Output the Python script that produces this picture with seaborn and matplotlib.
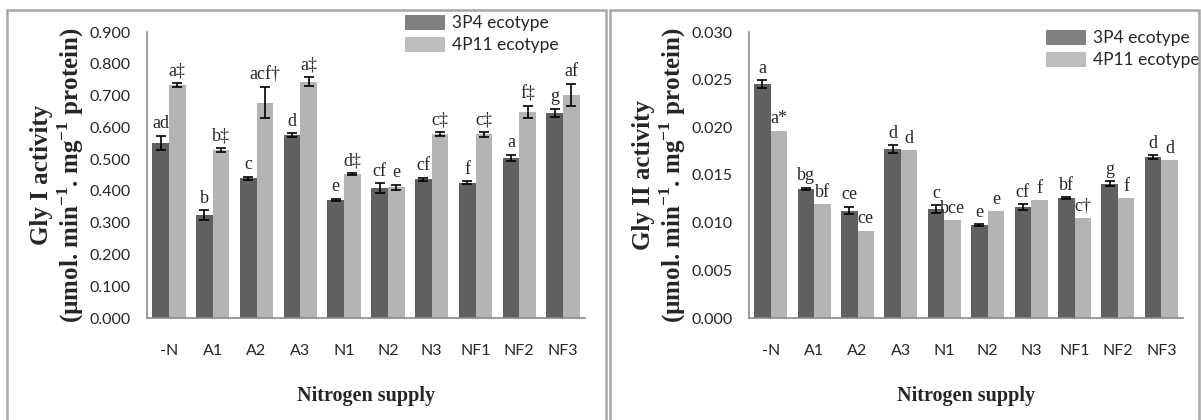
import numpy as np
import pandas as pd
import matplotlib
matplotlib.use("Agg")
import matplotlib.pyplot as plt
import seaborn as sns
from matplotlib.patches import Patch, Rectangle

# ---------------- data ----------------
categories = ["-N", "A1", "A2", "A3", "N1", "N2", "N3", "NF1", "NF2", "NF3"]
series_names = ["3P4 ecotype", "4P11 ecotype"]

gly1_3p4 = [0.552, 0.324, 0.440, 0.575, 0.371, 0.408, 0.436, 0.426, 0.504, 0.646]
gly1_4p11 = [0.733, 0.528, 0.678, 0.744, 0.452, 0.411, 0.579, 0.578, 0.649, 0.702]
gly1_err_3p4 = [0.022, 0.015, 0.005, 0.006, 0.004, 0.016, 0.005, 0.005, 0.010, 0.012]
gly1_err_4p11 = [0.007, 0.007, 0.048, 0.015, 0.003, 0.009, 0.005, 0.007, 0.019, 0.035]
gly1_lab_3p4 = ["ad", "b", "c", "d", "e", "cf", "cf", "f", "a", "g"]
gly1_lab_4p11 = ["a‡", "b‡", "acf†", "a‡", "d‡", "e", "c‡", "c‡", "f‡", "af"]

gly2_3p4 = [0.02455, 0.01357, 0.01126, 0.01773, 0.01143, 0.00972, 0.01161, 0.01255, 0.01409, 0.01685]
gly2_4p11 = [0.01965, 0.01193, 0.00913, 0.01762, 0.01024, 0.01119, 0.01238, 0.01052, 0.01255, 0.01657]
gly2_err_3p4 = [0.0004, 0.0001, 0.0004, 0.0004, 0.0004, 0.0001, 0.0003, 0.0001, 0.00025, 0.0002]
gly2_err_4p11 = [0, 0, 0, 0, 0, 0, 0, 0, 0, 0]
gly2_lab_3p4 = ["a", "bg", "ce", "d", "c", "e", "cf", "bf", "g", "d"]
gly2_lab_4p11 = ["a*", "bf", "ce", "d", "bce", "e", "f", "c†", "f", "d"]

gly1_ticks = [0.0, 0.1, 0.2, 0.3, 0.4, 0.5, 0.6, 0.7, 0.8, 0.9]
gly2_ticks = [0.0, 0.005, 0.010, 0.015, 0.020, 0.025, 0.030]

x_label = "Nitrogen supply"
y1_label = "Gly I activity\n(µmol. min$^{\\mathbf{-1}}$. mg$^{\\mathbf{-1}}$ protein)"
y2_label = "Gly II activity\n(µmol. min$^{\\mathbf{-1}}$. mg$^{\\mathbf{-1}}$ protein)"

# ---------------- style ----------------
sns.set_style("white")
plt.rcParams["font.family"] = ["Lato", "DejaVu Sans"]
plt.rcParams["mathtext.fontset"] = "custom"
plt.rcParams["mathtext.rm"] = "Liberation Serif"
plt.rcParams["mathtext.bf"] = "Liberation Serif:bold"

BAR_COLORS = ["#606060", "#b4b4b4"]
LEG_COLORS = ["#808080", "#bebebe"]
SPINE = "#8a8a8a"
FRAME = "#a6a6a6"

W, H = 1201, 420
fig = plt.figure(figsize=(W / 100, H / 100), dpi=100)

# panel frames
for (x0, x1) in [(7, 606), (610, 1199)]:
    fig.patches.append(Rectangle((x0 / W, -0.02), (x1 - x0) / W, (H - 10) / H + 0.02,
                                 transform=fig.transFigure, fill=False,
                                 edgecolor=FRAME, linewidth=1.8))


def panel(rect, v3, v4, e3, e4, l3, l4, ticks, ylab, leg_anchor):
    ax = fig.add_axes(rect)
    df = pd.DataFrame({
        "cat": categories * 2,
        "val": list(v3) + list(v4),
        "eco": [series_names[0]] * len(categories) + [series_names[1]] * len(categories),
    })
    sns.barplot(data=df, x="cat", y="val", hue="eco", order=categories,
                hue_order=series_names, palette=BAR_COLORS, width=0.76,
                errorbar=None, saturation=1, ax=ax, legend=False, linewidth=0)
    errs = [e3, e4]
    labs = [l3, l4]
    vals = [v3, v4]
    bar_conts = list(ax.containers)
    for k, cont in enumerate(bar_conts):
        xs = [b.get_x() + b.get_width() / 2 for b in cont]
        ev = np.array(errs[k])
        if np.any(ev > 0):
            ax.errorbar(xs, vals[k], yerr=ev, fmt="none", ecolor="black",
                        elinewidth=1.2, capsize=3.5, capthick=1.2, zorder=5)
        for xi, yi, ei, t in zip(xs, vals[k], ev, labs[k]):
            ax.annotate(t, (xi, yi + ei), xytext=(0, 2.5), textcoords="offset points",
                        ha="center", va="bottom", fontsize=13,
                        family=["Liberation Serif", "DejaVu Serif"])
    ax.set_ylim(ticks[0], ticks[-1])
    ax.set_yticks(ticks)
    ax.set_yticklabels([f"{t:.3f}" for t in ticks], fontsize=11.5)
    ax.set_xlim(-0.5, len(categories) - 0.5)
    ax.tick_params(axis="both", length=0)
    ax.tick_params(axis="y", pad=12)
    ax.tick_params(axis="x", pad=19, labelsize=11.5)
    for s in ["top", "right"]:
        ax.spines[s].set_visible(False)
    for s in ["left", "bottom"]:
        ax.spines[s].set_color(SPINE)
        ax.spines[s].set_linewidth(1.2)
    ax.set_xlabel(x_label, fontsize=14.5, fontweight="bold",
                  family="Liberation Serif", labelpad=20)
    ax.set_ylabel(ylab, fontsize=18, fontweight="bold",
                  family="Liberation Serif", labelpad=2, linespacing=1.1)
    handles = [Patch(facecolor=c, edgecolor="none") for c in LEG_COLORS]
    ax.legend(handles, series_names, loc="upper left", bbox_to_anchor=leg_anchor,
              bbox_transform=fig.transFigure, frameon=False, fontsize=12.5,
              handlelength=2.3, handleheight=0.95, handletextpad=0.4,
              labelspacing=0.3, borderpad=0, borderaxespad=0)
    return ax


ax1 = panel([147 / W, 1 - 318 / H, 438 / W, 286 / H],
            gly1_3p4, gly1_4p11, gly1_err_3p4, gly1_err_4p11,
            gly1_lab_3p4, gly1_lab_4p11, gly1_ticks, y1_label,
            (405 / W, 1 - 15 / H))
ax2 = panel([749 / W, 1 - 318 / H, 434 / W, 286 / H],
            gly2_3p4, gly2_4p11, gly2_err_3p4, gly2_err_4p11,
            gly2_lab_3p4, gly2_lab_4p11, gly2_ticks, y2_label,
            (1046 / W, 1 - 30 / H))

fig.savefig("out.png", dpi=100)
